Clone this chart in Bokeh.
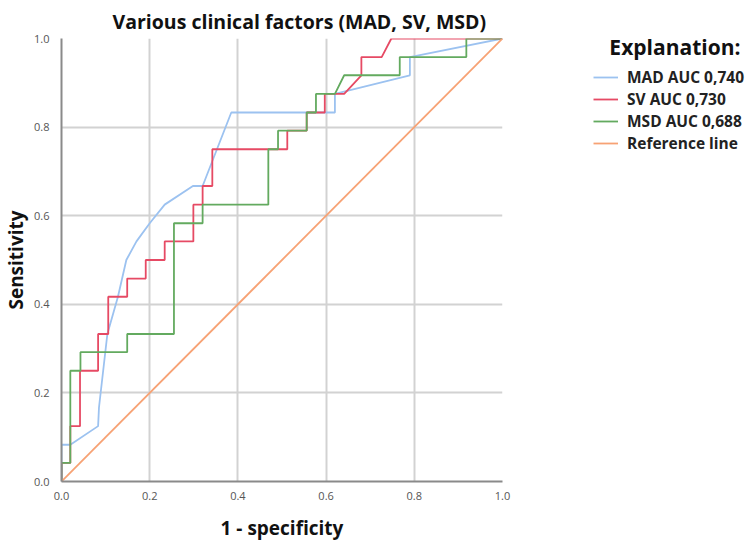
from bokeh.plotting import figure
from bokeh.models import (FixedTicker, PrintfTickFormatter, Legend, LegendItem, Range1d)
from bokeh.embed import file_html
from bokeh.resources import INLINE

title_text = "Various clinical factors (MAD, SV, MSD)"
x_label = "1 - specificity"
y_label = "Sensitivity"
legend_title = "Explanation:"
series_names = ["MAD AUC 0,740", "SV AUC 0,730", "MSD AUC 0,688", "Reference line"]
ticks = [0.0, 0.2, 0.4, 0.6, 0.8, 1.0]

mad_x = [0, 0, 0.02, 0.083, 0.085, 0.104, 0.128, 0.147, 0.17, 0.2, 0.234, 0.298, 0.32, 0.385, 0.62, 0.62, 0.79, 0.79, 1.0]
mad_y = [0, 0.083, 0.083, 0.125, 0.167, 0.333, 0.417, 0.5, 0.542, 0.583, 0.625, 0.667, 0.667, 0.833, 0.833, 0.875, 0.917, 0.958, 1.0]

sv_x = [0, 0, 0.02, 0.02, 0.042, 0.042, 0.083, 0.083, 0.106, 0.106, 0.149, 0.149, 0.191, 0.191, 0.234, 0.234,
        0.299, 0.299, 0.32, 0.32, 0.342, 0.342, 0.512, 0.512, 0.556, 0.556, 0.597, 0.597, 0.641, 0.68, 0.68, 0.726, 0.748, 1.0]
sv_y = [0, 0.042, 0.042, 0.125, 0.125, 0.25, 0.25, 0.333, 0.333, 0.417, 0.417, 0.458, 0.458, 0.5, 0.5, 0.542,
        0.542, 0.625, 0.625, 0.667, 0.667, 0.75, 0.75, 0.792, 0.792, 0.833, 0.833, 0.875, 0.875, 0.917, 0.958, 0.958, 1.0, 1.0]

msd_x = [0, 0, 0.02, 0.02, 0.043, 0.043, 0.149, 0.149, 0.255, 0.255, 0.32, 0.32, 0.469, 0.469, 0.491, 0.491,
         0.556, 0.556, 0.577, 0.577, 0.62, 0.641, 0.767, 0.767, 0.918, 0.918, 1.0]
msd_y = [0, 0.042, 0.042, 0.25, 0.25, 0.292, 0.292, 0.333, 0.333, 0.583, 0.583, 0.625, 0.625, 0.75, 0.75, 0.792,
         0.792, 0.833, 0.833, 0.875, 0.875, 0.917, 0.917, 0.958, 0.958, 1.0, 1.0]

ref_x = [0.0, 1.0]
ref_y = [0.0, 1.0]

colors = ["#9cc2f0", "#e64a64", "#63aa5f", "#f7a274"]
FONT = "Open Sans"

p = figure(frame_width=441, frame_height=443, output_backend="svg", toolbar_location=None,
           x_range=Range1d(0, 1), y_range=Range1d(0, 1),
           min_border_left=60, min_border_top=38, min_border_bottom=60, min_border_right=246)
p.outline_line_color = None
p.background_fill_color = "white"

p.title.text = title_text
p.title.align = "left"
p.title.offset = 51
p.title.text_font = FONT
p.title.text_font_size = "19.5px"
p.title.text_font_style = "bold"
p.title.text_color = "#111111"
p.title.standoff = 7

for ax in (p.xaxis[0], p.yaxis[0]):
    ax.ticker = FixedTicker(ticks=ticks)
    ax.formatter = PrintfTickFormatter(format="%.1f")
    ax.major_label_text_font = FONT
    ax.major_label_text_font_size = "11px"
    ax.major_label_text_color = "#555555"
    ax.axis_line_color = "#8a8a8a"
    ax.axis_line_width = 2
    ax.major_tick_line_color = None
    ax.minor_tick_line_color = None
    ax.axis_label_text_font = FONT
    ax.axis_label_text_font_size = "19px"
    ax.axis_label_text_font_style = "bold"
    ax.axis_label_text_color = "#111111"

p.xaxis[0].axis_label = x_label
p.yaxis[0].axis_label = y_label
p.xaxis[0].major_label_standoff = 4
p.xaxis[0].axis_label_standoff = 12
p.yaxis[0].major_label_standoff = 6
p.yaxis[0].axis_label_standoff = 2

for g in (p.xgrid[0], p.ygrid[0]):
    g.ticker = FixedTicker(ticks=[0.2, 0.4, 0.6, 0.8])
    g.grid_line_color = "#d2d2d2"
    g.grid_line_width = 2

r_mad = p.line(mad_x, mad_y, line_color=colors[0], line_width=1.8)
r_sv = p.line(sv_x, sv_y, line_color=colors[1], line_width=1.8)
r_msd = p.line(msd_x, msd_y, line_color=colors[2], line_width=1.8)
r_ref = p.line(ref_x, ref_y, line_color=colors[3], line_width=1.8)

legend = Legend(items=[LegendItem(label=series_names[0], renderers=[r_mad]),
                       LegendItem(label=series_names[1], renderers=[r_sv]),
                       LegendItem(label=series_names[2], renderers=[r_msd]),
                       LegendItem(label=series_names[3], renderers=[r_ref])],
                title="\u00a0\u00a0\u00a0" + legend_title,
                title_text_font=FONT, title_text_font_size="21px", title_text_font_style="bold",
                title_text_color="#111111", title_standoff=5,
                location=(91, 327), padding=0, margin=0, spacing=0,
                glyph_width=25, glyph_height=22, label_height=22, label_standoff=9,
                label_text_font=FONT, label_text_font_size="15.5px", label_text_font_style="bold",
                label_text_color="#222222", border_line_alpha=0, background_fill_alpha=0)
p.add_layout(legend, "right")

open("out.html", "w").write(file_html(p, INLINE))
